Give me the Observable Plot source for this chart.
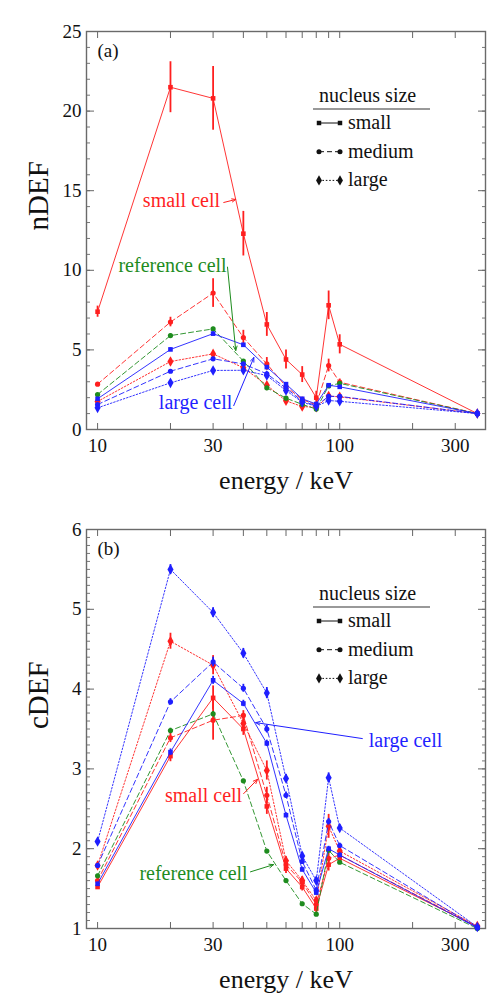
<!DOCTYPE html>
<html><head><meta charset="utf-8">
<script src="https://cdn.jsdelivr.net/npm/d3@7"></script>
<script src="https://cdn.jsdelivr.net/npm/@observablehq/plot@0.6"></script>
<style>
body{margin:0;background:#fff;font-family:Liberation Serif,Times New Roman,serif;}
.panel{position:relative;width:499px;}
.panel svg.ov{position:absolute;left:0;top:0;pointer-events:none;}
.panel svg text{font-family:Liberation Serif,Times New Roman,serif;}
#sep{position:absolute;left:11px;right:0;top:5px;height:1px;background:#e6e6e6;}
</style></head><body>
<div id="sep"></div>
<div id="pa" class="panel"></div>
<div id="pb" class="panel"></div>
<script>
// ---------- data ----------
const energy = [10, 20, 30, 40, 50, 60, 70, 80, 90, 100, 370];
const xTickLabels = [10, 30, 60, 100, 300];
const xTicks = [10, 20, 30, 40, 50, 60, 70, 80, 90, 100, 200, 300];

// panel (a): nDEF
const nDEF_smallCell_smallNuc  = [7.4, 21.5, 20.8, 12.3, 6.6, 4.4, 3.45, 2.0, 7.8, 5.35, 1.0];
const nDEF_smallCell_smallErr  = [0.35, 1.6, 2.0, 1.4, 0.75, 0.6, 0.5, 0.4, 0.9, 0.6, 0.05];
const nDEF_smallCell_mediumNuc = [2.85, 6.75, 8.57, 5.78, 4.12, 2.7, 1.88, 1.55, 4.02, 2.97, 1.0];
const nDEF_smallCell_mediumErr = [0.1, 0.3, 0.9, 0.45, 0.4, 0.15, 0.15, 0.1, 0.4, 0.2, 0.03];
const nDEF_smallCell_largeNuc  = [1.76, 4.27, 4.75, 3.88, 2.78, 1.8, 1.44, 1.4, 2.1, 2.05, 1.0];
const nDEF_smallCell_largeErr  = [0.08, 0.12, 0.15, 0.12, 0.1, 0.08, 0.08, 0.06, 0.1, 0.08, 0.02];
const nDEF_refCell_mediumNuc   = [2.2, 5.9, 6.32, 4.3, 2.62, 1.97, 1.58, 1.28, 2.74, 2.9, 1.0];
const nDEF_refCell_mediumErr   = [0.06, 0.1, 0.1, 0.08, 0.06, 0.05, 0.05, 0.04, 0.06, 0.06, 0.02];
const nDEF_largeCell_smallNuc  = [1.93, 5.03, 6.02, 5.32, 3.92, 2.85, 1.93, 1.6, 2.78, 2.68, 1.0];
const nDEF_largeCell_smallErr  = [0.06, 0.1, 0.12, 0.1, 0.08, 0.06, 0.05, 0.04, 0.06, 0.06, 0.02];
const nDEF_largeCell_mediumNuc = [1.57, 3.66, 4.44, 4.12, 3.5, 2.6, 1.78, 1.5, 2.08, 2.08, 1.0];
const nDEF_largeCell_mediumErr = [0.05, 0.08, 0.1, 0.08, 0.08, 0.06, 0.05, 0.04, 0.05, 0.05, 0.02];
const nDEF_largeCell_largeNuc  = [1.36, 2.93, 3.71, 3.72, 3.39, 2.45, 1.72, 1.45, 1.82, 1.77, 1.0];
const nDEF_largeCell_largeErr  = [0.05, 0.08, 0.1, 0.08, 0.08, 0.06, 0.05, 0.04, 0.05, 0.05, 0.02];

// panel (b): cDEF
const cDEF_smallCell_smallNuc  = [1.52, 3.16, 3.89, 3.5, 2.53, 1.75, 1.52, 1.25, 1.8, 1.88, 1.02];
const cDEF_smallCell_smallErr  = [0.02, 0.07, 0.15, 0.08, 0.1, 0.06, 0.05, 0.05, 0.08, 0.04, 0.01];
const cDEF_smallCell_mediumNuc = [1.6, 3.39, 3.61, 3.67, 2.67, 1.8, 1.58, 1.3, 1.88, 1.92, 1.02];
const cDEF_smallCell_mediumErr = [0.02, 0.06, 0.25, 0.06, 0.1, 0.06, 0.05, 0.05, 0.06, 0.04, 0.01];
const cDEF_smallCell_largeNuc  = [1.79, 4.6, 4.3, 3.57, 2.98, 1.85, 1.6, 1.35, 2.28, 1.97, 1.03];
const cDEF_smallCell_largeErr  = [0.02, 0.1, 0.12, 0.06, 0.12, 0.05, 0.05, 0.04, 0.15, 0.04, 0.01];
const cDEF_refCell_mediumNuc   = [1.66, 3.48, 3.69, 2.85, 1.97, 1.6, 1.31, 1.18, 1.98, 1.83, 1.0];
const cDEF_refCell_mediumErr   = [0.02, 0.03, 0.03, 0.02, 0.02, 0.02, 0.02, 0.02, 0.02, 0.02, 0.01];
const cDEF_largeCell_smallNuc  = [1.56, 3.21, 4.11, 3.82, 3.32, 2.42, 1.74, 1.45, 2.0, 1.92, 1.01];
const cDEF_largeCell_smallErr  = [0.02, 0.04, 0.05, 0.04, 0.04, 0.03, 0.03, 0.03, 0.03, 0.03, 0.01];
const cDEF_largeCell_mediumNuc = [1.79, 3.84, 4.34, 4.01, 3.5, 2.67, 1.84, 1.48, 2.34, 2.04, 1.01];
const cDEF_largeCell_mediumErr = [0.02, 0.04, 0.06, 0.05, 0.05, 0.04, 0.03, 0.03, 0.04, 0.03, 0.01];
const cDEF_largeCell_largeNuc  = [2.09, 5.5, 4.96, 4.45, 3.95, 2.88, 1.91, 1.6, 2.89, 2.26, 1.02];
const cDEF_largeCell_largeErr  = [0.03, 0.06, 0.06, 0.06, 0.07, 0.05, 0.04, 0.04, 0.06, 0.04, 0.01];

const nucleusSizes = ["small", "medium", "large"];

// annotations (data coordinates)
const annA = [
  {label: "small cell", cell: "small cell", x: 22.2, y: 14.4, x1: 33.2, y1: 14.26, x2: 37.2, y2: 14.45},
  {label: "reference cell", cell: "reference cell", x: 20.4, y: 10.3, x1: 34.4, y1: 10.2, x2: 37.2, y2: 4.96},
  {label: "large cell", cell: "large cell", x: 25.4, y: 1.7, x1: 36.5, y1: 1.5, x2: 44.2, y2: 4.52}
];
const annB = [
  {label: "large cell", cell: "large cell", x: 187, y: 3.36, x1: 124, y1: 3.38, x2: 45, y2: 3.58},
  {label: "small cell", cell: "small cell", x: 27.4, y: 2.67, x1: 40.1, y1: 2.69, x2: 45.8, y2: 2.87},
  {label: "reference cell", cell: "reference cell", x: 24.9, y: 1.69, x1: 42.8, y1: 1.71, x2: 53.3, y2: 1.80}
];

// ---------- styles ----------
const cellColor = {"small cell": "#ff1f1f", "reference cell": "#1e8c1e", "large cell": "#1f1fff"};
const nucleusDash = {small: null, medium: "5,3", large: "1.6,1.8"};
const nucleusSymbol = {small: "square", medium: "circle", large: "diamond"};
const d3Symbol = {square: d3.symbolSquare, circle: d3.symbolCircle, diamond: d3.symbolDiamond};
const FONT = "Liberation Serif, Times New Roman, serif";

const seriesTables = {
  nDEF: [
    ["small cell", "small", nDEF_smallCell_smallNuc, nDEF_smallCell_smallErr],
    ["small cell", "medium", nDEF_smallCell_mediumNuc, nDEF_smallCell_mediumErr],
    ["small cell", "large", nDEF_smallCell_largeNuc, nDEF_smallCell_largeErr],
    ["reference cell", "medium", nDEF_refCell_mediumNuc, nDEF_refCell_mediumErr],
    ["large cell", "small", nDEF_largeCell_smallNuc, nDEF_largeCell_smallErr],
    ["large cell", "medium", nDEF_largeCell_mediumNuc, nDEF_largeCell_mediumErr],
    ["large cell", "large", nDEF_largeCell_largeNuc, nDEF_largeCell_largeErr]
  ],
  cDEF: [
    ["small cell", "small", cDEF_smallCell_smallNuc, cDEF_smallCell_smallErr],
    ["small cell", "medium", cDEF_smallCell_mediumNuc, cDEF_smallCell_mediumErr],
    ["small cell", "large", cDEF_smallCell_largeNuc, cDEF_smallCell_largeErr],
    ["reference cell", "medium", cDEF_refCell_mediumNuc, cDEF_refCell_mediumErr],
    ["large cell", "small", cDEF_largeCell_smallNuc, cDEF_largeCell_smallErr],
    ["large cell", "medium", cDEF_largeCell_mediumNuc, cDEF_largeCell_mediumErr],
    ["large cell", "large", cDEF_largeCell_largeNuc, cDEF_largeCell_largeErr]
  ]
};

function panel(el, opts) {
  const series = seriesTables[opts.prefix].map(([cell, nuc, v, err]) => ({cell, nuc, v, err}));
  const marks = [];
  const H = opts.height, mt = opts.mt, mb = opts.mb, ml = 86, mr = 14;
  const tf = {fontFamily: FONT};
  // ticks (inward)
  marks.push(Plot.axisX(xTicks, {anchor: "bottom", tickSize: 6, dy: -6, tickFormat: () => "", stroke: "#666"}));
  marks.push(Plot.axisX(xTicks, {anchor: "top", tickSize: 6, dy: 6, tickFormat: () => "", stroke: "#666"}));
  marks.push(Plot.axisX(xTickLabels, {anchor: "bottom", tickSize: 0, tickPadding: 9, fontSize: 19, tickFormat: d => String(d), fill: "#111", ...tf}));
  marks.push(Plot.axisY(opts.minor, {anchor: "left", tickSize: 4, dx: 4, tickFormat: () => "", stroke: "#777"}));
  marks.push(Plot.axisY(opts.minor, {anchor: "right", tickSize: 4, dx: -4, tickFormat: () => "", stroke: "#777"}));
  marks.push(Plot.axisY(opts.major, {anchor: "left", tickSize: 8, dx: 8, tickFormat: () => "", stroke: "#666"}));
  marks.push(Plot.axisY(opts.major, {anchor: "right", tickSize: 8, dx: -8, tickFormat: () => "", stroke: "#666"}));
  marks.push(Plot.axisY(opts.major, {anchor: "left", tickSize: 0, tickPadding: 5, fontSize: 19, fill: "#111", tickFormat: d => String(d), ...tf}));
  marks.push(Plot.frame({stroke: "#6a6a6a", strokeWidth: 1.4}));

  for (const s of series) {
    const rows = energy.map((e, i) => ({e, v: s.v[i], err: s.err[i]}));
    const col = cellColor[s.cell];
    marks.push(Plot.line(rows, {x: "e", y: "v", stroke: col, strokeWidth: 1, strokeDasharray: nucleusDash[s.nuc], strokeOpacity: 0.9}));
    marks.push(Plot.ruleX(rows, {x: "e", y1: d => d.v - d.err, y2: d => d.v + d.err, stroke: col, strokeWidth: 1.8}));
    marks.push(Plot.dot(rows, {x: "e", y: "v", fill: col, symbol: nucleusSymbol[s.nuc], r: s.nuc === "large" ? 3.2 : 2.6}));
  }
  // annotations
  marks.push(Plot.arrow(opts.ann, {x1: "x1", y1: "y1", x2: "x2", y2: "y2", stroke: d => cellColor[d.cell], strokeWidth: 1, headLength: 7, headAngle: 45}));
  marks.push(Plot.text(opts.ann, {x: "x", y: "y", text: "label", fill: d => cellColor[d.cell], fontSize: 20, ...tf}));
  // titles
  marks.push(Plot.text([opts.xlabel], {frameAnchor: "bottom", dy: 59, lineAnchor: "bottom", text: d => d, fontSize: 26, fill: "#111", ...tf}));
  marks.push(Plot.text([opts.ylabel], {frameAnchor: "left", dx: -39, lineAnchor: "bottom", rotate: -90, text: d => d, fontSize: 29, fill: "#111", ...tf}));
  marks.push(Plot.text([opts.tag], {frameAnchor: "top-left", dx: 11, dy: 25, lineAnchor: "bottom", textAnchor: "start", text: d => d, fontSize: 19, fill: "#111", ...tf}));

  const chart = Plot.plot({
    width: 499, height: H,
    marginTop: mt, marginBottom: mb, marginLeft: ml, marginRight: mr,
    style: {fontFamily: FONT, fontSize: "19px", background: "#fff", color: "#111"},
    x: {type: "log", domain: [9, 400], axis: null},
    y: {domain: opts.ydomain, axis: null},
    marks
  });
  el.style.height = H + "px";
  el.appendChild(chart);

  // legend overlay
  const ov = d3.select(el).append("svg").attr("class", "ov").attr("width", 499).attr("height", H);
  const ft = mt; // frame top
  ov.append("text").attr("x", 319).attr("y", ft + 70.5).attr("font-size", 20).attr("font-family", FONT).attr("fill", "#111").text("nucleus size");
  ov.append("line").attr("x1", 313).attr("x2", 430).attr("y1", ft + 78).attr("y2", ft + 78).attr("stroke", "#777").attr("stroke-width", 1.5);
  nucleusSizes.forEach((n, i) => {
    const y = ft + 92 + 28.7 * i;
    const ln = ov.append("line").attr("x1", 319).attr("x2", 340).attr("y1", y).attr("y2", y).attr("stroke", "#111").attr("stroke-width", 1);
    if (nucleusDash[n]) ln.attr("stroke-dasharray", nucleusDash[n]);
    const sym = d3.symbol().type(d3Symbol[nucleusSymbol[n]]).size(n === "large" ? 30 : 20);
    for (const xx of [319, 340]) ov.append("path").attr("d", sym()).attr("transform", `translate(${xx},${y})`).attr("fill", "#111");
    ov.append("text").attr("x", 348).attr("y", y + 6).attr("font-size", 20).attr("font-family", FONT).attr("fill", "#111").text(n);
  });
}

panel(document.getElementById("pa"), {
  prefix: "nDEF", height: 500, mt: 31, mb: 71, ydomain: [0, 25],
  major: d3.range(0, 26, 5), minor: d3.range(0, 26, 1),
  ann: annA, xlabel: "energy / keV", ylabel: "nDEF", tag: "(a)"
});
panel(document.getElementById("pb"), {
  prefix: "cDEF", height: 498, mt: 29, mb: 70, ydomain: [1, 6],
  major: d3.range(1, 6.01, 1), minor: d3.range(10, 61, 1).map(d => d / 10),
  ann: annB, xlabel: "energy / keV", ylabel: "cDEF", tag: "(b)"
});
</script>
</body></html>
